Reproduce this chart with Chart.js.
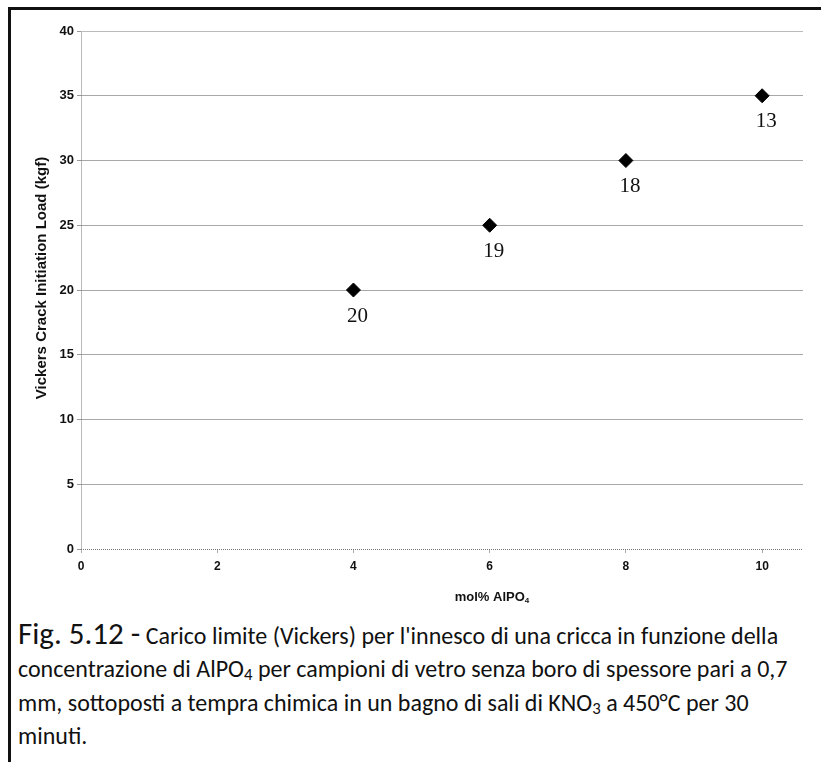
<!DOCTYPE html>
<html>
<head>
<meta charset="utf-8">
<script src="https://cdn.jsdelivr.net/npm/chart.js@4"></script>
<style>
  html, body { margin: 0; padding: 0; background: #fff; }
  body { width: 821px; height: 762px; position: relative; overflow: hidden; }
  .frame-top { position: absolute; left: 8px; top: 7px; width: 813px; height: 3px; background: #111; }
  .frame-left { position: absolute; left: 8px; top: 7px; width: 3px; height: 755px; background: #111; }
  #chartWrap { position: absolute; left: 0; top: 0; width: 821px; height: 612px; }
  .caption {
    position: absolute; left: 18px; top: 617px; width: 790px;
    font-family: Carlito, Lato, "Open Sans", sans-serif;
    font-size: 24px; line-height: 33.3px; color: #111; white-space: nowrap;
  }
  .caption .fig { font-size: 31px; }
  .caption sub { font-size: 0.7em; line-height: 0; vertical-align: -0.2em; }
</style>
</head>
<body>
<div class="frame-top"></div>
<div class="frame-left"></div>
<div id="chartWrap"><canvas id="crackChart" width="821" height="612"></canvas></div>
<div class="caption">
  <span class="fig">Fig. 5.12 -</span> Carico limite (Vickers) per l'innesco di una cricca in funzione della<br>
  concentrazione di AlPO<sub>4</sub> per campioni di vetro senza boro di spessore pari a 0,7<br>
  mm, sottoposti a tempra chimica in un bagno di sali di KNO<sub>3</sub> a 450°C per 30<br>
  minuti.
</div>
<script>
const molPercent = [4, 6, 8, 10];
const crackLoad = [20, 25, 30, 35];
const sampleCounts = ['20', '19', '18', '13'];
const yTicksMax = 40;
const xTicksMax = 10.6;

const AXIS_FONT = '"Liberation Sans", Arial, sans-serif';

// dotted frame of the plot area (top, left, bottom)
const plotFrame = {
  id: 'plotFrame',
  beforeDatasetsDraw(chart) {
    const { ctx, chartArea: a } = chart;
    ctx.save();
    ctx.strokeStyle = '#777';
    ctx.lineWidth = 1;
    ctx.setLineDash([1, 1]);
    ctx.beginPath();
    ctx.moveTo(a.left + 0.5, a.bottom + 0.5);
    ctx.lineTo(a.left + 0.5, a.top + 0.5);
    ctx.lineTo(a.right, a.top + 0.5);
    ctx.moveTo(a.left, a.bottom + 0.5);
    ctx.lineTo(a.right, a.bottom + 0.5);
    ctx.stroke();
    ctx.restore();
  }
};

// sample counts under each point + axis titles
const annotations = {
  id: 'annotations',
  afterDatasetsDraw(chart) {
    const { ctx, chartArea: a } = chart;
    const meta = chart.getDatasetMeta(0);
    ctx.save();
    ctx.fillStyle = '#111';
    ctx.font = '21px "Liberation Serif", "Times New Roman", serif';
    ctx.textAlign = 'center';
    ctx.textBaseline = 'middle';
    meta.data.forEach((pt, i) => {
      ctx.fillText(sampleCounts[i], pt.x + 4, pt.y + 26);
    });

    // y title
    ctx.save();
    ctx.translate(42, (a.top + a.bottom) / 2 - 12);
    ctx.rotate(-Math.PI / 2);
    ctx.font = 'bold 15px ' + AXIS_FONT;
    ctx.fillText('Vickers Crack Initiation Load (kgf)', 0, 0);
    ctx.restore();

    // x title with subscript
    const main = 'mol% AlPO';
    ctx.font = 'bold 13px ' + AXIS_FONT;
    const w1 = ctx.measureText(main).width;
    ctx.font = 'bold 8px ' + AXIS_FONT;
    const w2 = ctx.measureText('4').width;
    const cx = (a.left + a.right) / 2 + 50;
    const x0 = cx - (w1 + w2) / 2;
    const y0 = a.bottom + 48;
    ctx.textAlign = 'left';
    ctx.font = 'bold 13px ' + AXIS_FONT;
    ctx.fillText(main, x0, y0);
    ctx.font = 'bold 8px ' + AXIS_FONT;
    ctx.fillText('4', x0 + w1, y0 + 4);
    ctx.restore();
  }
};

new Chart(document.getElementById('crackChart'), {
  type: 'scatter',
  data: {
    datasets: [{
      label: 'Vickers crack initiation load',
      data: molPercent.map((x, i) => ({ x: x, y: crackLoad[i] })),
      pointStyle: 'rectRot',
      pointRadius: 7,
      pointHoverRadius: 7,
      backgroundColor: '#000',
      borderColor: '#000',
      borderWidth: 1
    }]
  },
  options: {
    responsive: false,
    animation: false,
    layout: { padding: { left: 0, top: 31, right: 18, bottom: 0 } },
    plugins: {
      legend: { display: false },
      tooltip: { enabled: false }
    },
    scales: {
      x: {
        type: 'linear',
        min: 0,
        max: xTicksMax,
        afterFit: (scale) => { scale.height = 63; },
        border: { display: false },
        grid: {
          drawOnChartArea: false,
          drawTicks: true,
          tickLength: 4,
          tickColor: '#aaa'
        },
        ticks: {
          stepSize: 2,
          includeBounds: false,
          padding: 6,
          color: '#111',
          font: { family: AXIS_FONT, size: 12, weight: 'bold' }
        }
      },
      y: {
        min: 0,
        max: yTicksMax,
        afterFit: (scale) => { scale.width = 81; },
        border: { display: false },
        grid: {
          color: (c) => (c.tick && (c.tick.value === 0 || c.tick.value === yTicksMax)) ? 'rgba(0,0,0,0)' : '#a8a8a8',
          tickColor: '#999',
          tickLength: 4,
          lineWidth: 1
        },
        ticks: {
          stepSize: 5,
          padding: 3,
          color: '#111',
          font: { family: AXIS_FONT, size: 13, weight: 'bold' }
        }
      }
    }
  },
  plugins: [plotFrame, annotations]
});
</script>
</body>
</html>
